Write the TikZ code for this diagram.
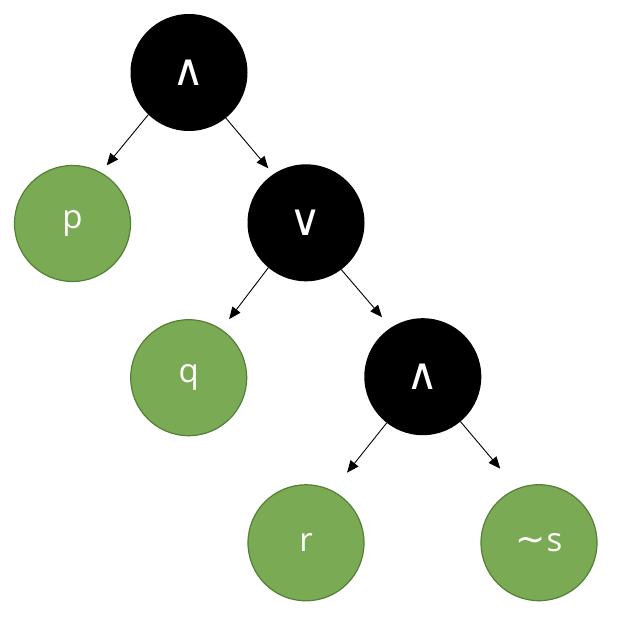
\documentclass[tikz,border=0pt]{standalone}
\usepackage{fontspec}
\setmainfont{Open Sans}
\newfontfamily\opfont{DejaVu Sans}
\usetikzlibrary{arrows.meta}

\definecolor{leafgreen}{RGB}{122,170,84}
\definecolor{leafedge}{RGB}{84,128,54}

\tikzset{
  opnode/.style={circle, fill=black, minimum size=117pt, inner sep=0pt, outer sep=0pt,
    text=white, font=\opfont\fontsize{44}{44}\selectfont},
  leafnode/.style={circle, fill=leafgreen, draw=leafedge, line width=1.2pt,
    minimum size=116pt, inner sep=0pt, outer sep=0pt,
    text=white, font=\fontsize{33}{33}\selectfont},
  edge/.style={line width=0.9pt, -{Triangle[length=12pt,width=10pt]}}
}

\begin{document}
\begin{tikzpicture}[x=1pt,y=-1pt]
\useasboundingbox (0,0) rectangle (626,644);

% operators
\node[opnode] (and1) at (189,72.5) {∧};
\node[opnode] (or1)  at (306,222.8) {∨};
\node[opnode] (and2) at (422.8,376.7) {∧};

% literals
\node[leafnode] (p) at (72.5,223.5) {p};
\node[leafnode] (q) at (188.7,377.7) {q};
\node[leafnode] (r) at (306,542.8) {r};
\node[leafnode] (s) at (539,542.7) {{\opfont\fontsize{36}{36}\selectfont ∼}\kern1pt s};

% edges
\draw[edge, shorten >=9.5pt]  (and1.226.5) -- (p.61.3);
\draw[edge, shorten >=7.8pt]  (and1.309.5) -- (or1.124);
\draw[edge, shorten >=13.2pt] (or1.230.6)  -- (q.56.8);
\draw[edge, shorten >=13.8pt] (or1.307.5)  -- (and2.123.5);
\draw[edge, shorten >=23.6pt] (and2.232.6) -- (r.63.2);
\draw[edge, shorten >=26.4pt] (and2.310.2) -- (s.112.1);
\end{tikzpicture}
\end{document}
